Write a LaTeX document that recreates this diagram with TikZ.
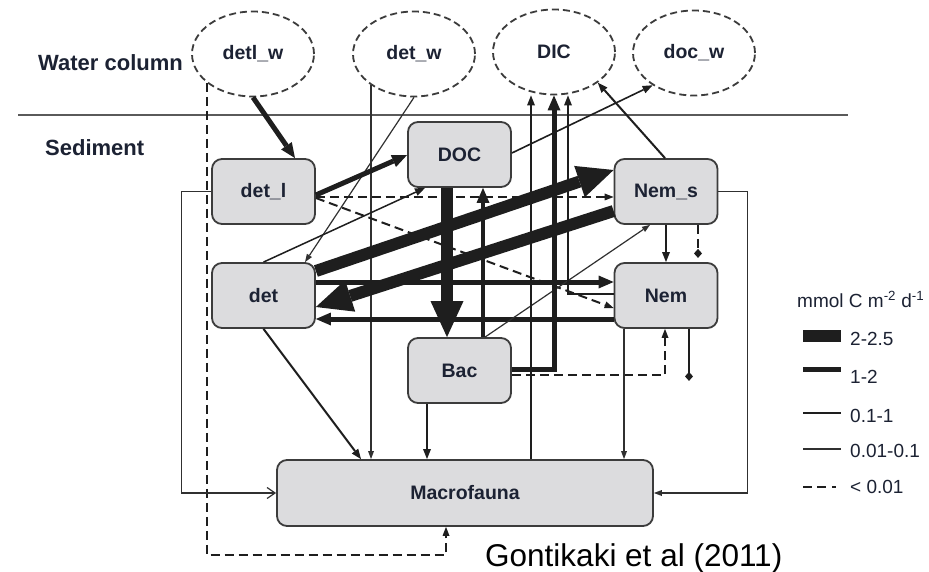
\documentclass[tikz,border=0pt]{standalone}
\usepackage{fontspec}
\setmainfont{Liberation Sans}
\usetikzlibrary{arrows.meta,shapes.geometric}
\definecolor{boxfill}{HTML}{DCDCDE}
\definecolor{boxline}{HTML}{3C3C3C}
\definecolor{ink}{HTML}{1E1E1E}
\definecolor{thinc}{HTML}{303030}
\definecolor{lbl}{HTML}{1C2233}
\definecolor{sepc}{HTML}{5A5A5A}
\begin{document}
\begin{tikzpicture}[x=1pt,y=-1pt,
  box/.style={draw=boxline, fill=boxfill, rounded corners=10pt, line width=1.8pt, minimum width=103pt, minimum height=65pt, inner sep=0pt, text=lbl, font=\fontsize{19.5}{22}\selectfont\bfseries},
  pool/.style={ellipse, draw=boxline, dash pattern=on 7pt off 4pt, line width=1.8pt, minimum width=122pt, minimum height=85pt, inner sep=0pt, text=lbl, font=\fontsize{19.5}{22}\selectfont\bfseries},
  zone/.style={anchor=west, inner sep=0pt, text=lbl, font=\fontsize{22}{26}\selectfont\bfseries},
  legtext/.style={anchor=base west, inner sep=0pt, text=lbl, font=\fontsize{19}{22}\selectfont},
  fhuge/.style={draw=ink, line width=12pt, -{Triangle[length=36pt,width=33pt,line width=0pt]}},
  fheavy/.style={draw=ink, line width=5pt, -{Triangle[length=15pt,width=13pt,line width=0pt]}},
  fmed/.style={draw=ink, line width=2pt, -{Triangle[length=10pt,width=8pt,line width=0pt]}},
  flight/.style={draw=thinc, line width=1.2pt, -{Triangle[length=8pt,width=6pt,line width=0pt]}},
  fdash/.style={draw=ink, line width=2pt, dash pattern=on 9pt off 5pt, -{Triangle[length=9pt,width=7pt,line width=0pt]}},
  dtip/.style={-{Diamond[length=9pt,width=8pt,line width=0pt]}}
]
\fill[white] (0,0) rectangle (929,572);
\useasboundingbox (0,0) rectangle (929,572);

% zones
\draw[sepc, line width=1.5pt] (18,115) -- (848,115);
\node[zone] (wc) at (38,63) {Water column};
\node[zone] (sed) at (45,148) {Sediment};

% water column pools
\node[pool] (detl_w) at (253,54) {\raisebox{-3pt}{detl\_w}};
\node[pool] (det_w) at (414,54) {\raisebox{-3pt}{det\_w}};
\node[pool] (DIC) at (554,52) {DIC};
\node[pool] (doc_w) at (694,53) {\raisebox{3pt}{doc\_w}};

% sediment compartments
\node[box] (det_l) at (263.5,191.5) {det\_l};
\node[box] (DOC) at (459.5,154.5) {DOC};
\node[box] (det) at (263.5,295.5) {det};
\node[box] (Bac) at (459.5,370.5) {Bac};
\node[box] (Nem_s) at (666,191.5) {Nem\_s};
\node[box] (Nem) at (666,295.5) {Nem};
\node[box, minimum width=376pt, minimum height=66pt] (Macrofauna) at (465,493) {Macrofauna};

% flows
\draw[fheavy] (detl_w.south) -- (det_l.north -| 295,0);
\draw[flight] (det_w.south) -- (det.north -| 305,0);
\draw[flight] (det_w.216) -- (det_w.216 |- Macrofauna.north);
\draw[fdash] (detl_w.212) |- (446,555) -- (Macrofauna.south -| 446,0);

\draw[fheavy] (det_l.east |- 0,195) -- (DOC.west |- 0,155);
\draw[fdash] (det_l.east |- 0,197) -- (Nem_s.west |- 0,197);
\draw[fdash] (det_l.east |- 0,198) -- (Nem.west |- 0,308);
\draw[flight, -{Straight Barb[length=8pt,width=11pt]}] (det_l.west) -- ++(-30,0) |- (Macrofauna.west);

\draw[fmed, line width=1.5pt] (det.north) -- (DOC.south -| 425,0);
\draw[fhuge] (det.east |- 0,271) -- (Nem_s.west |- 0,170);
\draw[fhuge] (Nem_s.west |- 0,211) -- (det.east |- 0,307);
\draw[fheavy] (det.east |- 0,282) -- (Nem.west |- 0,282);
\draw[fheavy] (Nem.west |- 0,319) -- (det.east |- 0,319);
\draw[fmed] (det.south) -- (Macrofauna.north -| 361,0);

\draw[fhuge] (DOC.south -| 447,0) -- (Bac.north -| 447,0);
\draw[fheavy, line width=4.5pt] (Bac.north -| 483,0) -- (DOC.south -| 483,0);
\draw[flight] (Bac.north -| 485,0) -- (Nem_s.south -| 650,0);
\draw[fheavy] (Bac.east |- 0,369) -| (DIC.south);
\draw[fdash] (Bac.east |- 0,375) -| (Nem.south -| 665,0);
\draw[fmed] (Bac.south -| 427,0) -- (Macrofauna.north -| 427,0);

\draw[fmed] (Nem.west |- 0,294) -| (DIC.south -| 568,0);
\draw[fmed, line width=1.6pt] (Macrofauna.north -| 531,0) -- (DIC.south -| 531,0);
\draw[fmed] (Nem_s.north -| 665,0) -- (DIC.-35);
\draw[fmed, line width=1.6pt] (DOC.east |- 0,153) -- (doc_w.218);

\draw[fmed] (Nem_s.south) -- (Nem.north);
\draw[fdash, dtip] (Nem_s.south -| 698,0) -- ++(0,33);
\draw[fmed, dtip] (Nem.south -| 689,0) -- ++(0,52);
\draw[flight, line width=1.4pt] (Nem.south -| 624,0) -- (Macrofauna.north -| 624,0);
\draw[flight] (Nem_s.east) -- ++(29,0) |- (Macrofauna.east);

% legend
\node[legtext] (lunit) at (797,307) {mmol C m\textsuperscript{-2} d\textsuperscript{-1}};
\draw[ink, line width=12pt] (803,336) -- (841,336);
\node[legtext] (l1) at (850,345) {2-2.5};
\draw[ink, line width=5.5pt] (803,369.5) -- (841,369.5);
\node[legtext] (l2) at (850,383) {1-2};
\draw[ink, line width=2pt] (803,413) -- (841,413);
\node[legtext] (l3) at (850,422) {0.1-1};
\draw[thinc, line width=1.2pt] (803,449) -- (841,449);
\node[legtext] (l4) at (850,457) {0.01-0.1};
\draw[ink, line width=2pt, dash pattern=on 9pt off 5pt on 9pt off 6pt on 4pt off 20pt] (803,487) -- (841,487);
\node[legtext] (l5) at (850,493) {< 0.01};

% source
\node[anchor=base west, inner sep=0pt, font=\fontsize{31.5}{36}\selectfont] (cite) at (485,566) {Gontikaki et al (2011)};
\end{tikzpicture}
\end{document}
